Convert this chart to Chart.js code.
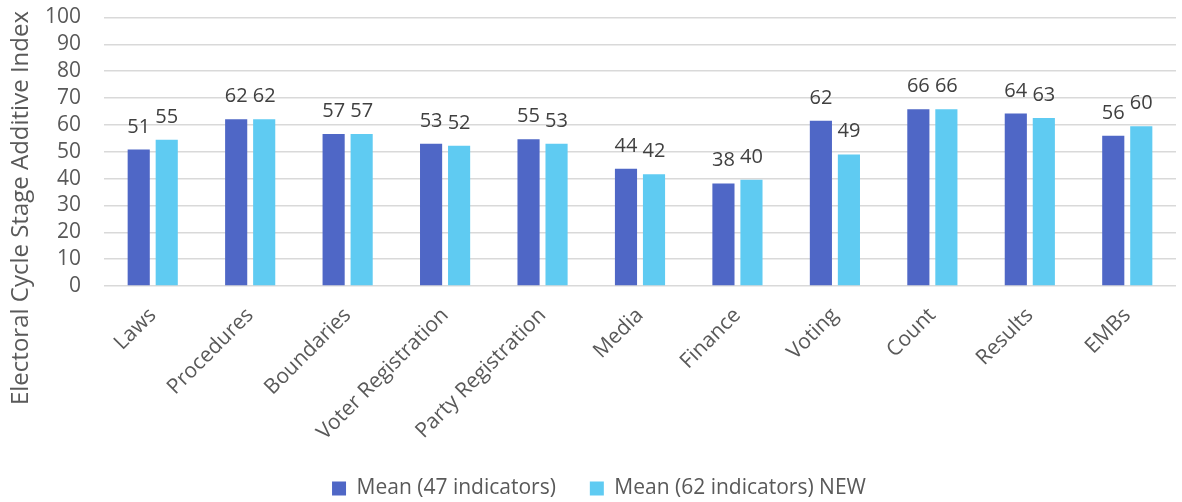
<!DOCTYPE html>
<html lang="en">
<head>
  <meta charset="UTF-8" />
  <title>Electoral Cycle Stage Additive Index</title>
  <script src="https://cdn.jsdelivr.net/npm/chart.js"></script>
  <style>
    html, body { margin: 0; padding: 0; background: #fff; }
    #wrap { width: 1182px; height: 502px; }
  </style>
</head>
<body>
  <div id="wrap"><canvas id="graphique"></canvas></div>

  <script>
    // données
    const stages = ['Laws', 'Procedures', 'Boundaries', 'Voter Registration', 'Party Registration',
      'Media', 'Finance', 'Voting', 'Count', 'Results', 'EMBs'];
    const mean47 = [50.8, 62.1, 56.6, 53.0, 54.7, 43.7, 38.2, 61.5, 65.8, 64.2, 56.0];
    const mean62 = [54.5, 62.1, 56.6, 52.2, 53.0, 41.6, 39.6, 49.0, 65.8, 62.6, 59.5];
    const yTicks = [0, 10, 20, 30, 40, 50, 60, 70, 80, 90, 100];
    const yTitle = 'Electoral Cycle Stage Additive Index';

    const FONT = '"Open Sans", sans-serif';

    // étiquettes de valeur au-dessus des barres + titre de l'axe Y
    const valueLabels = {
      id: 'valueLabels',
      afterDatasetsDraw(chart) {
        const ctx = chart.ctx;
        ctx.save();
        ctx.font = '20px ' + FONT;
        ctx.fillStyle = '#404040';
        ctx.textAlign = 'center';
        ctx.textBaseline = 'alphabetic';
        chart.data.datasets.forEach((ds, i) => {
          chart.getDatasetMeta(i).data.forEach((bar, j) => {
            ctx.fillText(Math.round(ds.data[j]), bar.x, bar.y - 17);
          });
        });
        ctx.restore();

        // titre vertical, centré sur la hauteur du graphique comme dans l'original
        ctx.save();
        ctx.font = '24px ' + FONT;
        ctx.fillStyle = '#595959';
        ctx.textAlign = 'center';
        ctx.textBaseline = 'middle';
        ctx.translate(21, 208);
        ctx.rotate(-Math.PI / 2);
        ctx.fillText(yTitle, 0, 0);
        ctx.restore();
      }
    };

    const ctx = document.getElementById('graphique').getContext('2d');

    const chart = new Chart(ctx, {
      type: 'bar',
      data: {
        labels: stages,
        datasets: [
          {
            label: 'Mean (47 indicators)',
            data: mean47,
            backgroundColor: '#4f67c6',
            barPercentage: 0.79,
            categoryPercentage: 0.575
          },
          {
            label: 'Mean (62 indicators) NEW',
            data: mean62,
            backgroundColor: '#5fcbf2',
            barPercentage: 0.79,
            categoryPercentage: 0.575
          }
        ]
      },
      options: {
        responsive: true,
        maintainAspectRatio: false,
        animation: false,
        layout: { padding: { top: 0, right: 6, left: 22, bottom: 0 } },
        scales: {
          x: {
            afterFit: (axis) => { axis.height = 158; },
            grid: { display: false },
            border: { display: false },
            ticks: {
              color: '#595959',
              font: { family: FONT, size: 21 },
              minRotation: 45,
              maxRotation: 45,
              autoSkip: false,
              padding: 9
            }
          },
          y: {
            min: 0,
            max: 100,
            afterBuildTicks: (axis) => { axis.ticks = yTicks.map(v => ({ value: v })); },
            afterFit: (axis) => {
              axis.width = 82;
              axis.paddingTop = 17.5;
            },
            grid: { color: '#d9d9d9', lineWidth: 1.5, drawTicks: false },
            border: { display: false },
            ticks: {
              color: '#595959',
              font: { family: FONT, size: 21 },
              autoSkip: false,
              padding: 23
            }
          }
        },
        plugins: {
          legend: {
            position: 'bottom',
            maxHeight: 58,
            labels: {
              color: '#595959',
              font: { family: FONT, size: 21 },
              boxWidth: 14,
              boxHeight: 14,
              padding: 34
            }
          },
          tooltip: { enabled: false }
        }
      },
      plugins: [valueLabels]
    });
  </script>
</body>
</html>
